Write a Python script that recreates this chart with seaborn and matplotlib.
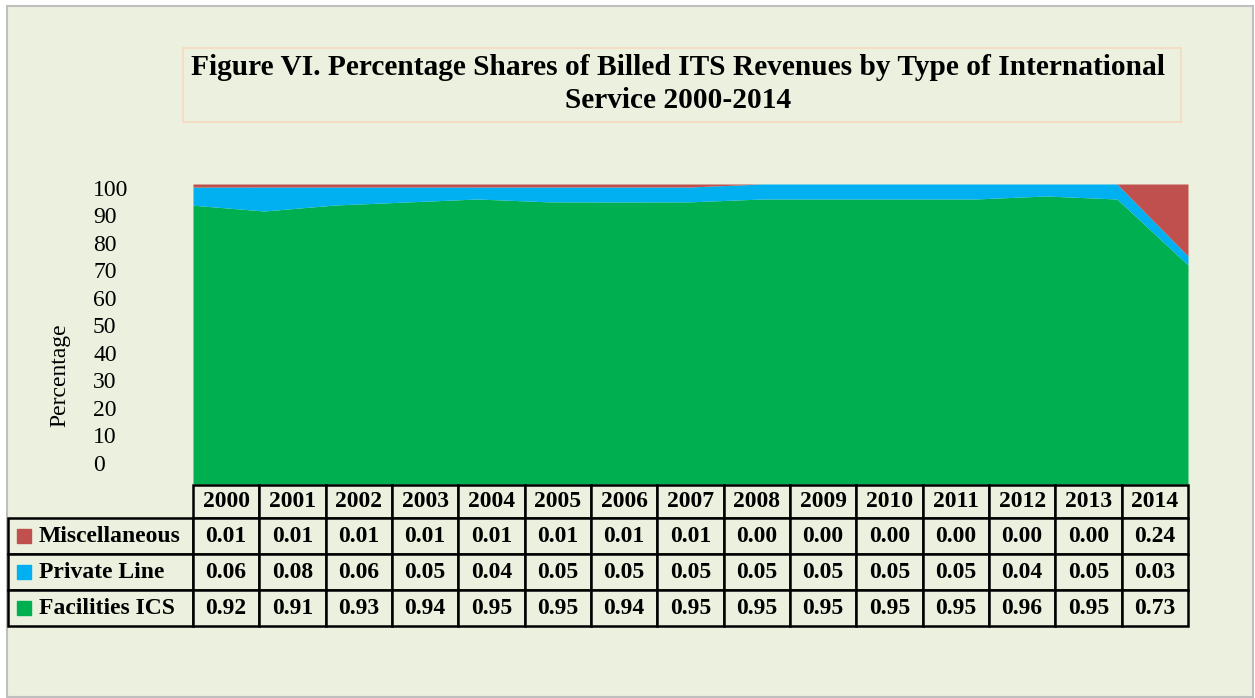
"""
Percentage shares of billed ITS revenues by type of international service,
2000-2014. 100% stacked area chart with a data table underneath (Excel style).
"""

import numpy as np
import pandas as pd
import seaborn as sns
import matplotlib.pyplot as plt
from matplotlib.patches import Rectangle
from matplotlib.table import Table

years = [str(y) for y in range(2000, 2015)]
series_names = ["Miscellaneous", "Private Line", "Facilities ICS"]
misc = [0.01, 0.01, 0.01, 0.01, 0.01, 0.01, 0.01, 0.01, 0.00, 0.00, 0.00, 0.00, 0.00, 0.00, 0.24]
private_line = [0.06, 0.08, 0.06, 0.05, 0.04, 0.05, 0.05, 0.05, 0.05, 0.05, 0.05, 0.05, 0.04, 0.05, 0.03]
facilities = [0.92, 0.91, 0.93, 0.94, 0.95, 0.95, 0.94, 0.95, 0.95, 0.95, 0.95, 0.95, 0.96, 0.95, 0.73]
ytick_labels = [str(v) for v in range(0, 101, 10)]

BG = "#EBF1DE"
colors = {"Miscellaneous": "#C0504D", "Private Line": "#00B0F0", "Facilities ICS": "#00B050"}

W, H = 1255, 698


def fx(px):
    return px / W


def fy(py):
    return 1 - py / H


def makeplot():
    df = pd.DataFrame({"Miscellaneous": misc, "Private Line": private_line,
                       "Facilities ICS": facilities}, index=years)
    # 100% stacked: normalise each year to its total
    pct = df.div(df.sum(axis=1), axis=0) * 100

    sns.set_style("white")
    plt.rcParams["font.family"] = ["Liberation Serif", "DejaVu Serif"]
    plt.rcParams["text.color"] = "black"
    plt.rcParams["axes.labelcolor"] = "black"
    plt.rcParams["ytick.color"] = "black"

    fig = plt.figure(figsize=(W / 100, H / 100), dpi=100, facecolor="white")
    fig.patches.append(Rectangle((fx(7), fy(697)), fx(1246), 691 / H, transform=fig.transFigure,
                                 facecolor=BG, edgecolor="#BFBFBF", lw=1.5, zorder=-10))

    # title box
    fig.patches.append(Rectangle((fx(183), fy(122)), fx(998), 74 / H, transform=fig.transFigure,
                                 facecolor=BG, edgecolor="#F8D9C0", lw=1.2, zorder=-5))
    fig.text(fx(678), fy(84), "Figure VI. Percentage Shares of Billed ITS Revenues by Type of International\nService 2000-2014",
             ha="center", va="center", fontsize=21.2, fontweight="bold", linespacing=1.3)

    # area chart
    ax = fig.add_axes([fx(193), fy(484), fx(995), 300 / H])
    ax.set_facecolor(BG)
    x = np.arange(len(years))
    order = ["Facilities ICS", "Private Line", "Miscellaneous"]
    ax.stackplot(x, *[pct[c].values for c in order], colors=[colors[c] for c in order], lw=0)
    ax.set_xlim(0, len(years) - 1)
    ax.set_ylim(0, 100)
    ax.set_xticks([])
    # Excel placed the axis labels slightly off the gridline positions
    ax.set_yticks(np.linspace(7, 98.7, len(ytick_labels)), labels=ytick_labels)
    ax.tick_params(axis="y", length=0, pad=72, labelsize=17, labelcolor="black")
    for lab in ax.get_yticklabels():
        lab.set_horizontalalignment("left")
    for s in ax.spines.values():
        s.set_visible(False)
    ax.set_ylabel("Percentage", fontsize=17, color="black")
    ax.yaxis.set_label_coords((70 - 193) / 995, (484 - 375) / 300)

    # data table: the year columns span the plot width, labels hang to the left
    tax = fig.add_axes([fx(193), fy(626), fx(995), 141 / H])
    tax.axis("off")
    tb = Table(tax, bbox=[0, 0, 1, 1])
    lab_w, col_w = 185 / 995, 1 / len(years)
    row_h = [33 / 141, 36 / 141, 36 / 141, 36 / 141]
    table_vals = {"Miscellaneous": misc, "Private Line": private_line, "Facilities ICS": facilities}

    def style(cell):
        cell.set_linewidth(1.8)
        cell.get_text().set_fontsize(17)
        cell.get_text().set_fontweight("bold")
        cell.get_text().set_color("black")

    for j, yr in enumerate(years):
        style(tb.add_cell(0, j, width=col_w, height=row_h[0], text=yr, loc="center",
                          facecolor=BG, edgecolor="black"))
    for i, name in enumerate(series_names, start=1):
        style(tb.add_cell(i, -1, width=lab_w, height=row_h[i], text="",
                          facecolor=BG, edgecolor="black"))
        for j, v in enumerate(table_vals[name]):
            style(tb.add_cell(i, j, width=col_w, height=row_h[i], text=f"{v:.2f}", loc="center",
                              facecolor=BG, edgecolor="black"))
    tb.auto_set_font_size(False)
    tax.add_table(tb)

    # row labels with legend keys
    tax.set_xlim(0, 1)
    tax.set_ylim(0, 1)
    for i, name in enumerate(series_names):
        yc = (108 - 18 - 36 * i) / 141
        tax.plot([(24 - 193) / 995], [yc], marker="s", ms=10.5, color=colors[name],
                 clip_on=False, ls="none")
        tax.text((39 - 193) / 995, yc, name, ha="left", va="center", fontsize=17,
                 fontweight="bold", color="black")

    fig.savefig("out.png", dpi=100, facecolor="white")


def main():
    makeplot()


if __name__ == "__main__":
    main()
